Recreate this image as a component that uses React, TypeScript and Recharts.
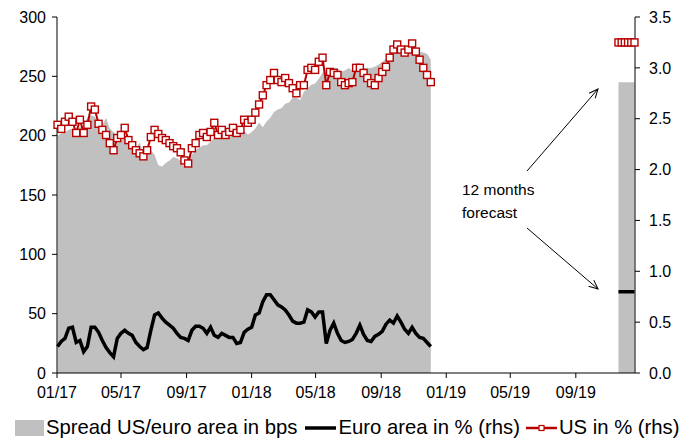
import { ComposedChart, Area, Line, XAxis, YAxis } from 'recharts';

const DAY = 86400000;
const FONT = '"Liberation Sans", Arial, sans-serif';

// x axis runs from 1 Jan 2017 to late Dec 2019
const axisStart = Date.UTC(2017, 0, 1);
const axisEnd = Date.UTC(2019, 11, 21);
const tickMonths = ['2017-01', '2017-05', '2017-09', '2018-01', '2018-05', '2018-09', '2019-01', '2019-05', '2019-09'];

// weekly observations, first one on 2 Jan 2017
const firstObs = '2017-01-02';

// spread US/euro area, bps (lhs)
const spreadBps = [
  200, 202, 203, 205, 206, 205, 207, 209, 215, 217, 216, 210, 209, 215, 206, 203, 200, 196, 198, 194,
  190, 190, 194, 186, 190, 188, 184, 175, 174, 177, 179, 182, 181, 179, 174, 178, 184, 188, 190, 192,
  192, 195, 198, 199, 198, 198, 199, 200, 199, 200, 204, 201, 203, 206, 211, 207, 212, 215, 220, 222,
  223, 227, 228, 232, 232, 230, 237, 240, 243, 244, 248, 253, 255, 257, 257, 257, 254, 255, 257, 255,
  257, 258, 257, 257, 257, 258, 260, 262, 265, 268, 271, 274, 274, 273, 272, 273, 274, 271, 270, 269,
  264,
];

// euro area yield, % (rhs)
const euroYield = [
  0.26, 0.31, 0.34, 0.44, 0.45, 0.30, 0.32, 0.21, 0.26, 0.45, 0.45, 0.40, 0.32, 0.25, 0.20, 0.16, 0.34, 0.39, 0.42, 0.39,
  0.37, 0.30, 0.26, 0.23, 0.25, 0.42, 0.57, 0.59, 0.54, 0.50, 0.47, 0.44, 0.39, 0.35, 0.34, 0.32, 0.42, 0.46, 0.46, 0.44,
  0.39, 0.45, 0.37, 0.35, 0.39, 0.37, 0.35, 0.35, 0.29, 0.30, 0.40, 0.43, 0.45, 0.57, 0.59, 0.70, 0.77, 0.77, 0.72, 0.67,
  0.65, 0.62, 0.57, 0.51, 0.49, 0.49, 0.50, 0.62, 0.60, 0.55, 0.60, 0.60, 0.29, 0.42, 0.49, 0.39, 0.32, 0.30, 0.31, 0.33,
  0.39, 0.47, 0.38, 0.32, 0.31, 0.36, 0.38, 0.41, 0.48, 0.52, 0.49, 0.56, 0.50, 0.43, 0.39, 0.45, 0.39, 0.35, 0.34, 0.30,
  0.26,
];

// US yield, % (rhs)
const usYield = [
  2.44, 2.40, 2.47, 2.52, 2.47, 2.36, 2.49, 2.36, 2.44, 2.62, 2.59, 2.45, 2.39, 2.34, 2.26, 2.19, 2.31, 2.34, 2.41, 2.29,
  2.24, 2.19, 2.16, 2.13, 2.19, 2.32, 2.39, 2.35, 2.31, 2.29, 2.26, 2.23, 2.21, 2.17, 2.09, 2.06, 2.21, 2.26, 2.34, 2.36,
  2.32, 2.37, 2.46, 2.34, 2.39, 2.34, 2.37, 2.41, 2.36, 2.39, 2.49, 2.46, 2.49, 2.56, 2.64, 2.73, 2.83, 2.88, 2.95, 2.88,
  2.86, 2.90, 2.85, 2.80, 2.75, 2.83, 2.83, 2.98, 3.00, 2.98, 3.06, 3.10, 2.83, 2.96, 2.95, 2.93, 2.86, 2.83, 2.85, 2.86,
  3.00, 3.00, 2.95, 2.90, 2.85, 2.83, 2.90, 2.96, 3.01, 3.10, 3.18, 3.23, 3.18, 3.15, 3.18, 3.24, 3.16, 3.08, 3.00, 2.93,
  2.86,
];

// 12 months forecast (end 2019)
const forecastDates = ['2019-11-20', '2019-11-26', '2019-12-02', '2019-12-08', '2019-12-14', '2019-12-20'];
const forecastSpread = [245, 245, 245, 245, 245, 245];
const forecastEuro = [0.8, 0.8, 0.8, 0.8, 0.8, 0.8];
const forecastUs = [3.25, 3.25, 3.25, 3.25, 3.25, 3.25];

const toTime = (s: string) => new Date(s + 'T00:00:00Z').getTime();
const obsStart = toTime(firstObs);

const rows = [
  ...usYield.map((us, i) => ({ t: obsStart + i * 7 * DAY, spread: spreadBps[i], euro: euroYield[i], us })),
  // gap between history and forecast
  { t: Date.UTC(2019, 2, 1), spread: null, euro: null, us: null },
  ...forecastDates.map((d, i) => ({ t: toTime(d), spread: forecastSpread[i], euro: forecastEuro[i], us: forecastUs[i] })),
];

const ticks = tickMonths.map((m) => toTime(m + '-01'));
const fmtMonth = (v: number) => {
  const d = new Date(v);
  return String(d.getUTCMonth() + 1).padStart(2, '0') + '/' + String(d.getUTCFullYear()).slice(2);
};

const RED = '#B80000';

const SquareDot = (p: any) => {
  const { cx, cy, index, value } = p;
  if (cx == null || cy == null || value == null) return <g key={`d${index}`} />;
  return <rect key={`d${index}`} x={cx - 3.5} y={cy - 3.5} width={7} height={7} fill="#fff" stroke={RED} strokeWidth={1.4} />;
};

const tickStyle = { fill: '#000', fontSize: 16, fontFamily: FONT };

export default function App() {
  return (
    <div style={{ position: 'absolute', left: 0, top: 0, width: 693, height: 441, fontFamily: FONT, background: '#fff' }}>
      <ComposedChart width={693} height={441} data={rows} margin={{ top: 17, right: 0, bottom: 38, left: 0 }}>
        <XAxis
          dataKey="t"
          type="number"
          domain={[axisStart, axisEnd]}
          ticks={ticks}
          tickFormatter={fmtMonth}
          tick={tickStyle}
          stroke="#000"
          tickSize={5}
          tickMargin={9}
          height={30}
          interval={0}
        />
        <YAxis
          yAxisId="l"
          domain={[0, 300]}
          ticks={[0, 50, 100, 150, 200, 250, 300]}
          tick={tickStyle}
          stroke="#000"
          tickSize={5}
          tickMargin={6}
          width={57}
        />
        <YAxis
          yAxisId="r"
          orientation="right"
          domain={[0, 3.5]}
          ticks={[0, 0.5, 1, 1.5, 2, 2.5, 3, 3.5]}
          tickFormatter={(v: number) => v.toFixed(1)}
          tick={tickStyle}
          stroke="#000"
          tickSize={5}
          tickMargin={9}
          width={58}
        />
        <Area
          yAxisId="l"
          dataKey="spread"
          type="linear"
          fill="#C0C0C0"
          fillOpacity={1}
          stroke="none"
          isAnimationActive={false}
        />
        <Line
          yAxisId="r"
          dataKey="euro"
          type="linear"
          stroke="#000"
          strokeWidth={3.5}
          dot={false}
          isAnimationActive={false}
        />
        <Line
          yAxisId="r"
          dataKey="us"
          type="linear"
          stroke={RED}
          strokeWidth={2}
          dot={SquareDot}
          isAnimationActive={false}
        />
      </ComposedChart>

      {/* forecast annotation */}
      <svg width={693} height={441} style={{ position: 'absolute', left: 0, top: 0, pointerEvents: 'none' }}>
        <defs>
          <marker id="ah" markerWidth="10" markerHeight="10" refX="9" refY="5" orient="auto" markerUnits="userSpaceOnUse">
            <path d="M0,1 L9,5 L0,9" fill="none" stroke="#000" strokeWidth={1} />
          </marker>
        </defs>
        <text x={462} y={195} fontSize={15.5} fontFamily={FONT} fill="#000">12 months</text>
        <text x={462} y={218} fontSize={15.5} fontFamily={FONT} fill="#000">forecast</text>
        <line x1={527} y1={171} x2={598} y2={89} stroke="#000" strokeWidth={1} markerEnd="url(#ah)" />
        <line x1={527} y1={228} x2={598} y2={289} stroke="#000" strokeWidth={1} markerEnd="url(#ah)" />
      </svg>

      {/* legend */}
      <div style={{ position: 'absolute', left: 15, top: 416, display: 'flex', alignItems: 'center', fontSize: 20.3, whiteSpace: 'nowrap', color: '#000' }}>
        <span style={{ display: 'inline-block', width: 29, height: 16, background: '#C0C0C0' }} />
        <span style={{ marginLeft: 2 }}>Spread US/euro area in bps</span>
        <svg width={31} height={10} style={{ marginLeft: 8 }}>
          <line x1={0} y1={5} x2={31} y2={5} stroke="#000" strokeWidth={3.5} />
        </svg>
        <span style={{ marginLeft: 2 }}>Euro area in % (rhs)</span>
        <svg width={31} height={10} style={{ marginLeft: 6 }}>
          <line x1={0} y1={5} x2={31} y2={5} stroke={RED} strokeWidth={2.5} />
          <rect x={13} y={2.5} width={5} height={5} fill="#fff" stroke={RED} strokeWidth={1.2} />
        </svg>
        <span style={{ marginLeft: 2 }}>US in % (rhs)</span>
      </div>
    </div>
  );
}
